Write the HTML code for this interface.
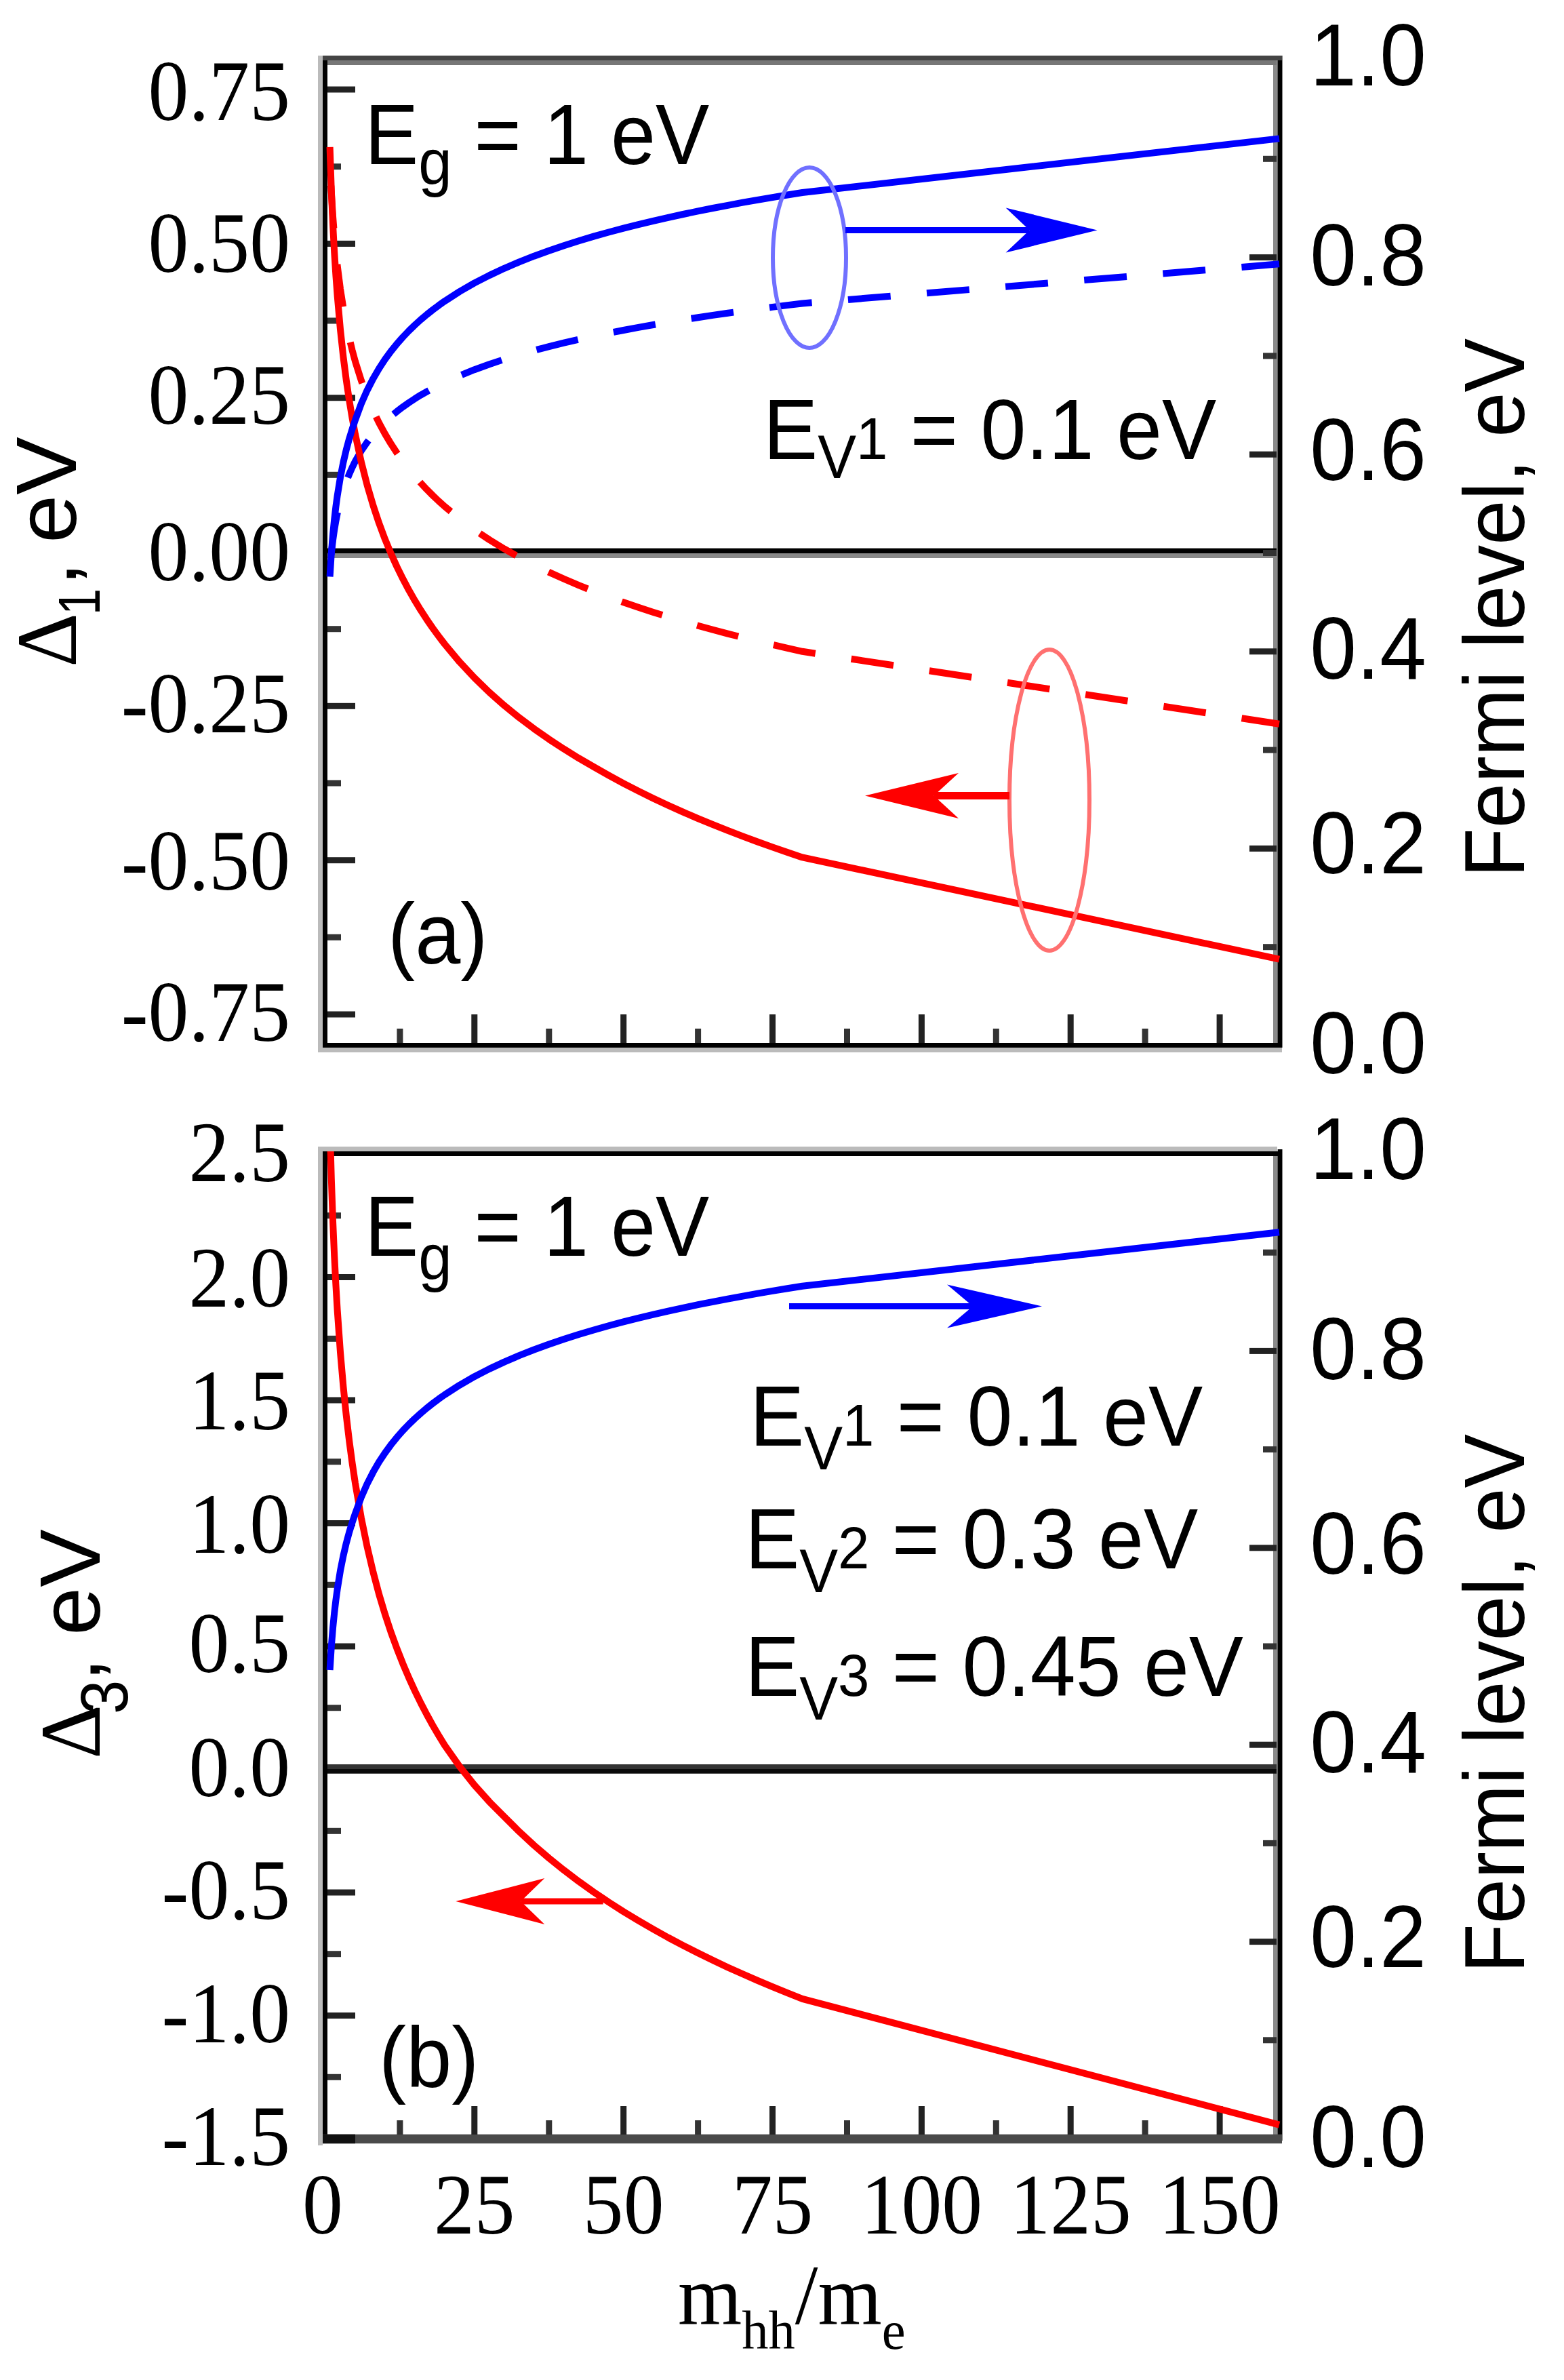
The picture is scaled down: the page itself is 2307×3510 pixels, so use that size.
<!DOCTYPE html>
<html lang="en"><head><meta charset="utf-8"><title>Figure</title>
<style>html,body{margin:0;padding:0;background:#fff}svg{display:block}</style></head>
<body>
<svg width="2307" height="3510" viewBox="0 0 2307 3510">
<defs><clipPath id="ca"><rect x="476.0" y="85.0" width="1415.0" height="1461.0"/></clipPath><clipPath id="cb"><rect x="476.0" y="1698.0" width="1415.0" height="1460.0"/></clipPath></defs>
<rect width="2307" height="3510" fill="#fff"/>
<rect x="469.0" y="82.0" width="7.0" height="1470.0" fill="#bbb"/>
<rect x="476.0" y="82.0" width="7.0" height="1463.0" fill="#000"/>
<rect x="1878.0" y="89.0" width="7.0" height="1453.0" fill="#8a8a8a"/>
<rect x="1884.7" y="82.0" width="6.8" height="1463.0" fill="#000"/>
<rect x="476.0" y="82.0" width="1415.0" height="7.0" fill="#444"/>
<rect x="483.0" y="89.0" width="1400.0" height="7.0" fill="#777"/>
<rect x="476.0" y="1538.0" width="1415.0" height="7.0" fill="#000"/>
<rect x="469.0" y="1545.0" width="1422.0" height="7.0" fill="#bbb"/>
<rect x="483.0" y="808.6" width="1400.0" height="7.4" fill="#000"/>
<rect x="483.0" y="816.0" width="1400.0" height="7.0" fill="#888"/>
<rect x="483.0" y="1491.5" width="41.0" height="9.0" fill="#222"/>
<rect x="483.0" y="1264.2" width="41.0" height="9.0" fill="#222"/>
<rect x="483.0" y="1036.8" width="41.0" height="9.0" fill="#222"/>
<rect x="483.0" y="582.2" width="41.0" height="9.0" fill="#222"/>
<rect x="483.0" y="354.9" width="41.0" height="9.0" fill="#222"/>
<rect x="483.0" y="127.5" width="41.0" height="9.0" fill="#222"/>
<rect x="483.0" y="1377.8" width="20.0" height="9.0" fill="#333"/>
<rect x="483.0" y="1150.5" width="20.0" height="9.0" fill="#333"/>
<rect x="483.0" y="923.2" width="20.0" height="9.0" fill="#333"/>
<rect x="483.0" y="695.8" width="20.0" height="9.0" fill="#333"/>
<rect x="483.0" y="468.5" width="20.0" height="9.0" fill="#333"/>
<rect x="483.0" y="241.2" width="20.0" height="9.0" fill="#333"/>
<rect x="1843.0" y="1246.9" width="40.0" height="9.0" fill="#222"/>
<rect x="1843.0" y="956.3" width="40.0" height="9.0" fill="#222"/>
<rect x="1843.0" y="665.7" width="40.0" height="9.0" fill="#222"/>
<rect x="1843.0" y="375.1" width="40.0" height="9.0" fill="#222"/>
<rect x="1863.0" y="1392.2" width="20.0" height="9.0" fill="#333"/>
<rect x="1863.0" y="1101.6" width="20.0" height="9.0" fill="#333"/>
<rect x="1863.0" y="811.0" width="20.0" height="9.0" fill="#333"/>
<rect x="1863.0" y="520.4" width="20.0" height="9.0" fill="#333"/>
<rect x="1863.0" y="229.8" width="20.0" height="9.0" fill="#333"/>
<rect x="695.3" y="1496.0" width="9.0" height="42.0" fill="#222"/>
<rect x="915.2" y="1496.0" width="9.0" height="42.0" fill="#222"/>
<rect x="1135.0" y="1496.0" width="9.0" height="42.0" fill="#222"/>
<rect x="1354.9" y="1496.0" width="9.0" height="42.0" fill="#222"/>
<rect x="1574.7" y="1496.0" width="9.0" height="42.0" fill="#222"/>
<rect x="1794.6" y="1496.0" width="9.0" height="42.0" fill="#222"/>
<rect x="585.4" y="1517.0" width="9.0" height="21.0" fill="#333"/>
<rect x="805.3" y="1517.0" width="9.0" height="21.0" fill="#333"/>
<rect x="1025.1" y="1517.0" width="9.0" height="21.0" fill="#333"/>
<rect x="1245.0" y="1517.0" width="9.0" height="21.0" fill="#333"/>
<rect x="1464.8" y="1517.0" width="9.0" height="21.0" fill="#333"/>
<rect x="1684.6" y="1517.0" width="9.0" height="21.0" fill="#333"/>
<rect x="469.0" y="1695.0" width="7.0" height="1469.0" fill="#bbb"/>
<rect x="476.0" y="1695.0" width="7.0" height="1462.0" fill="#000"/>
<rect x="1878.0" y="1702.0" width="7.0" height="1452.0" fill="#8a8a8a"/>
<rect x="1884.7" y="1695.0" width="6.8" height="1462.0" fill="#000"/>
<rect x="469.0" y="1691.0" width="1415.0" height="7.0" fill="#bbb"/>
<rect x="476.0" y="1698.0" width="1415.0" height="7.0" fill="#000"/>
<rect x="476.0" y="3147.7" width="1415.0" height="13.5" fill="#4a4a4a"/>
<rect x="476.0" y="3147.7" width="48.0" height="13.5" fill="#111"/>
<rect x="483.0" y="2602.0" width="1400.0" height="7.0" fill="#333"/>
<rect x="483.0" y="2609.0" width="1400.0" height="6.7" fill="#0a0a0a"/>
<rect x="483.0" y="2968.0" width="41.0" height="9.0" fill="#222"/>
<rect x="483.0" y="2786.5" width="41.0" height="9.0" fill="#222"/>
<rect x="483.0" y="2423.5" width="41.0" height="9.0" fill="#222"/>
<rect x="483.0" y="2242.0" width="41.0" height="9.0" fill="#222"/>
<rect x="483.0" y="2060.5" width="41.0" height="9.0" fill="#222"/>
<rect x="483.0" y="1879.0" width="41.0" height="9.0" fill="#222"/>
<rect x="483.0" y="3058.8" width="20.0" height="9.0" fill="#333"/>
<rect x="483.0" y="2877.2" width="20.0" height="9.0" fill="#333"/>
<rect x="483.0" y="2695.8" width="20.0" height="9.0" fill="#333"/>
<rect x="483.0" y="2514.2" width="20.0" height="9.0" fill="#333"/>
<rect x="483.0" y="2332.8" width="20.0" height="9.0" fill="#333"/>
<rect x="483.0" y="2151.2" width="20.0" height="9.0" fill="#333"/>
<rect x="483.0" y="1969.8" width="20.0" height="9.0" fill="#333"/>
<rect x="483.0" y="1788.2" width="20.0" height="9.0" fill="#333"/>
<rect x="1843.0" y="2859.1" width="40.0" height="9.0" fill="#222"/>
<rect x="1843.0" y="2568.7" width="40.0" height="9.0" fill="#222"/>
<rect x="1843.0" y="2278.3" width="40.0" height="9.0" fill="#222"/>
<rect x="1843.0" y="1987.9" width="40.0" height="9.0" fill="#222"/>
<rect x="1863.0" y="3004.3" width="20.0" height="9.0" fill="#333"/>
<rect x="1863.0" y="2713.9" width="20.0" height="9.0" fill="#333"/>
<rect x="1863.0" y="2423.5" width="20.0" height="9.0" fill="#333"/>
<rect x="1863.0" y="2133.1" width="20.0" height="9.0" fill="#333"/>
<rect x="1863.0" y="1842.7" width="20.0" height="9.0" fill="#333"/>
<rect x="695.3" y="3106.0" width="9.0" height="42.0" fill="#222"/>
<rect x="915.2" y="3106.0" width="9.0" height="42.0" fill="#222"/>
<rect x="1135.0" y="3106.0" width="9.0" height="42.0" fill="#222"/>
<rect x="1354.9" y="3106.0" width="9.0" height="42.0" fill="#222"/>
<rect x="1574.7" y="3106.0" width="9.0" height="42.0" fill="#222"/>
<rect x="1794.6" y="3106.0" width="9.0" height="42.0" fill="#222"/>
<rect x="585.4" y="3127.0" width="9.0" height="21.0" fill="#333"/>
<rect x="805.3" y="3127.0" width="9.0" height="21.0" fill="#333"/>
<rect x="1025.1" y="3127.0" width="9.0" height="21.0" fill="#333"/>
<rect x="1245.0" y="3127.0" width="9.0" height="21.0" fill="#333"/>
<rect x="1464.8" y="3127.0" width="9.0" height="21.0" fill="#333"/>
<rect x="1684.6" y="3127.0" width="9.0" height="21.0" fill="#333"/>
<path d="M486.6,240.2 L488.8,284.6 L491.0,319.0 L493.2,347.2 L495.4,371.0 L497.6,391.6 L502.0,426.0 L506.4,454.1 L510.8,477.9 L515.2,498.5 L519.6,516.7 L524.0,533.0 L532.8,561.1 L541.6,584.9 L550.4,605.5 L559.1,623.7 L567.9,639.9 L576.7,654.6 L585.5,668.0 L594.3,680.4 L603.1,691.8 L611.9,702.5 L620.7,712.4 L629.5,721.8 L638.3,730.6 L647.1,739.0 L655.9,746.9 L677.9,765.0 L699.8,781.3 L721.8,796.0 L743.8,809.4 L765.8,821.8 L787.8,833.2 L809.8,843.9 L831.8,853.8 L853.7,863.2 L875.7,872.0 L897.7,880.3 L919.7,888.3 L941.7,895.8 L963.7,903.0 L985.6,909.8 L1007.6,916.4 L1029.6,922.7 L1051.6,928.7 L1073.6,934.6 L1095.6,940.2 L1117.5,945.6 L1139.5,950.8 L1161.5,955.9 L1183.5,960.8 L1887.0,1067.7" fill="none" stroke="#ff0000" stroke-width="10" stroke-linejoin="round" stroke-dasharray="63 53.5" stroke-dashoffset="82.9" clip-path="url(#ca)"/>
<path d="M486.6,839.7 L488.8,815.5 L491.0,796.8 L493.2,781.4 L495.4,768.5 L497.6,757.3 L502.0,738.5 L506.4,723.2 L510.8,710.3 L515.2,699.1 L519.6,689.2 L524.0,680.3 L532.8,665.0 L541.6,652.1 L550.4,640.9 L559.1,631.0 L567.9,622.1 L576.7,614.1 L585.5,606.8 L594.3,600.1 L603.1,593.9 L611.9,588.1 L620.7,582.6 L629.5,577.6 L638.3,572.8 L647.1,568.2 L655.9,563.9 L677.9,554.0 L699.8,545.2 L721.8,537.2 L743.8,529.9 L765.8,523.1 L787.8,516.9 L809.8,511.1 L831.8,505.7 L853.7,500.6 L875.7,495.8 L897.7,491.3 L919.7,487.0 L941.7,482.9 L963.7,479.0 L985.6,475.2 L1007.6,471.6 L1029.6,468.2 L1051.6,464.9 L1073.6,461.8 L1095.6,458.7 L1117.5,455.7 L1139.5,452.9 L1161.5,450.1 L1183.5,447.5 L1887.0,389.3" fill="none" stroke="#0000ff" stroke-width="10" stroke-linejoin="round" stroke-dasharray="63 53.5" stroke-dashoffset="94.6" clip-path="url(#ca)"/>
<path d="M486.6,216.9 L488.8,281.2 L491.0,331.0 L493.2,371.7 L495.4,406.1 L497.6,435.9 L502.0,485.7 L506.4,526.4 L510.8,560.8 L515.2,590.6 L519.6,616.9 L524.0,640.4 L532.8,681.1 L541.6,715.5 L550.4,745.4 L559.1,771.6 L567.9,795.2 L576.7,816.4 L585.5,835.9 L594.3,853.7 L603.1,870.3 L611.9,885.7 L620.7,900.1 L629.5,913.6 L638.3,926.4 L647.1,938.4 L655.9,949.9 L677.9,976.2 L699.8,999.7 L721.8,1021.0 L743.8,1040.4 L765.8,1058.3 L787.8,1074.8 L809.8,1090.2 L831.8,1104.6 L853.7,1118.2 L875.7,1130.9 L897.7,1143.4 L919.7,1155.3 L941.7,1166.6 L963.7,1177.4 L985.6,1187.7 L1007.6,1197.6 L1029.6,1207.1 L1051.6,1216.2 L1073.6,1224.9 L1095.6,1233.4 L1117.5,1241.5 L1139.5,1249.4 L1161.5,1257.0 L1183.5,1264.4 L1887.0,1414.7" fill="none" stroke="#ff0000" stroke-width="10" stroke-linejoin="round" clip-path="url(#ca)"/>
<path d="M486.6,850.5 L488.8,815.5 L491.0,788.4 L493.2,766.2 L495.4,747.4 L497.6,731.2 L502.0,704.1 L506.4,681.9 L510.8,663.1 L515.2,646.9 L519.6,632.6 L524.0,619.5 L532.8,595.6 L541.6,575.6 L550.4,558.4 L559.1,543.4 L567.9,530.0 L576.7,518.0 L585.5,507.1 L594.3,497.1 L603.1,487.9 L611.9,479.4 L620.7,471.4 L629.5,464.0 L638.3,457.0 L647.1,450.4 L655.9,444.2 L677.9,430.0 L699.8,417.4 L721.8,406.1 L743.8,395.8 L765.8,386.4 L787.8,377.7 L809.8,369.7 L831.8,362.2 L853.7,355.2 L875.7,348.6 L897.7,342.5 L919.7,336.6 L941.7,331.1 L963.7,325.8 L985.6,320.8 L1007.6,316.0 L1029.6,311.4 L1051.6,307.0 L1073.6,302.8 L1095.6,298.7 L1117.5,294.8 L1139.5,291.1 L1161.5,287.5 L1183.5,284.0 L1887.0,204.4" fill="none" stroke="#0000ff" stroke-width="10" stroke-linejoin="round" clip-path="url(#ca)"/>
<ellipse cx="1194" cy="380" rx="54" ry="133" fill="none" stroke="#7070ff" stroke-width="6"/>
<ellipse cx="1548" cy="1180" rx="59" ry="222" fill="none" stroke="#ff7070" stroke-width="6"/>
<path d="M1247.0,339.5 L1518.6,339.5" stroke="#0000ff" stroke-width="9" fill="none"/>
<path d="M1618.6,339.5 L1483.6,306.5 L1518.6,339.5 L1483.6,372.5 Z" fill="#0000ff"/>
<path d="M1489.0,1173.6 L1377.5,1173.6" stroke="#ff0000" stroke-width="11" fill="none"/>
<path d="M1276.0,1173.6 L1414.0,1140.1 L1377.5,1173.6 L1414.0,1207.1 Z" fill="#ff0000"/>
<path d="M486.6,1658.5 L488.8,1738.7 L491.0,1800.9 L493.2,1851.7 L495.4,1894.7 L497.6,1931.9 L502.0,1994.1 L506.4,2044.9 L510.8,2087.9 L515.2,2125.1 L519.6,2158.0 L524.0,2187.3 L532.8,2238.2 L541.6,2281.2 L550.4,2318.4 L559.1,2351.2 L567.9,2380.6 L576.7,2407.2 L585.5,2431.4 L594.3,2453.7 L603.1,2474.4 L611.9,2493.6 L620.7,2511.6 L629.5,2528.5 L638.3,2544.5 L647.1,2559.5 L655.9,2573.8 L677.9,2605.1 L699.8,2632.7 L721.8,2657.2 L743.8,2679.3 L765.8,2701.2 L787.8,2721.5 L809.8,2740.4 L831.8,2758.1 L853.7,2774.7 L875.7,2790.3 L897.7,2805.1 L919.7,2819.2 L941.7,2832.5 L963.7,2845.3 L985.6,2857.5 L1007.6,2869.1 L1029.6,2880.3 L1051.6,2891.0 L1073.6,2901.4 L1095.6,2911.3 L1117.5,2920.9 L1139.5,2930.2 L1161.5,2939.2 L1183.5,2947.9 L1887.0,3133.7" fill="none" stroke="#ff0000" stroke-width="10" stroke-linejoin="round" clip-path="url(#cb)"/>
<path d="M486.6,2463.0 L488.8,2428.0 L491.0,2400.9 L493.2,2378.7 L495.4,2360.0 L497.6,2343.8 L502.0,2316.6 L506.4,2294.5 L510.8,2275.7 L515.2,2259.5 L519.6,2245.2 L524.0,2232.2 L532.8,2208.3 L541.6,2188.3 L550.4,2171.1 L559.1,2156.0 L567.9,2142.7 L576.7,2130.7 L585.5,2119.8 L594.3,2109.8 L603.1,2100.6 L611.9,2092.1 L620.7,2084.2 L629.5,2076.7 L638.3,2069.8 L647.1,2063.2 L655.9,2057.0 L677.9,2042.8 L699.8,2030.2 L721.8,2018.9 L743.8,2008.6 L765.8,1999.2 L787.8,1990.5 L809.8,1982.5 L831.8,1975.0 L853.7,1968.0 L875.7,1961.5 L897.7,1955.3 L919.7,1949.4 L941.7,1943.9 L963.7,1938.6 L985.6,1933.6 L1007.6,1928.8 L1029.6,1924.2 L1051.6,1919.9 L1073.6,1915.6 L1095.6,1911.6 L1117.5,1907.7 L1139.5,1903.9 L1161.5,1900.3 L1183.5,1896.8 L1887.0,1817.3" fill="none" stroke="#0000ff" stroke-width="10" stroke-linejoin="round" clip-path="url(#cb)"/>
<path d="M1164.0,1926.5 L1435.0,1926.5" stroke="#0000ff" stroke-width="9" fill="none"/>
<path d="M1537.0,1926.5 L1397.0,1894.5 L1435.0,1926.5 L1397.0,1958.5 Z" fill="#0000ff"/>
<path d="M889.7,2804.0 L768.3,2804.0" stroke="#ff0000" stroke-width="9" fill="none"/>
<path d="M672.3,2804.0 L803.3,2770.0 L768.3,2804.0 L803.3,2838.0 Z" fill="#ff0000"/>
<text transform="translate(428.0,177.0) scale(0.95,1)" font-family="'Liberation Serif', 'Times New Roman', serif" font-size="126" text-anchor="end" >0.75</text>
<text transform="translate(428.0,401.4) scale(0.95,1)" font-family="'Liberation Serif', 'Times New Roman', serif" font-size="126" text-anchor="end" >0.50</text>
<text transform="translate(428.0,624.7) scale(0.95,1)" font-family="'Liberation Serif', 'Times New Roman', serif" font-size="126" text-anchor="end" >0.25</text>
<text transform="translate(428.0,856.0) scale(0.95,1)" font-family="'Liberation Serif', 'Times New Roman', serif" font-size="126" text-anchor="end" >0.00</text>
<text transform="translate(428.0,1080.3) scale(0.95,1)" font-family="'Liberation Serif', 'Times New Roman', serif" font-size="126" text-anchor="end" >-0.25</text>
<text transform="translate(428.0,1311.7) scale(0.95,1)" font-family="'Liberation Serif', 'Times New Roman', serif" font-size="126" text-anchor="end" >-0.50</text>
<text transform="translate(428.0,1535.0) scale(0.95,1)" font-family="'Liberation Serif', 'Times New Roman', serif" font-size="126" text-anchor="end" >-0.75</text>
<text transform="translate(428.0,1742.0) scale(0.95,1)" font-family="'Liberation Serif', 'Times New Roman', serif" font-size="126" text-anchor="end" >2.5</text>
<text transform="translate(428.0,1926.5) scale(0.95,1)" font-family="'Liberation Serif', 'Times New Roman', serif" font-size="126" text-anchor="end" >2.0</text>
<text transform="translate(428.0,2108.0) scale(0.95,1)" font-family="'Liberation Serif', 'Times New Roman', serif" font-size="126" text-anchor="end" >1.5</text>
<text transform="translate(428.0,2289.5) scale(0.95,1)" font-family="'Liberation Serif', 'Times New Roman', serif" font-size="126" text-anchor="end" >1.0</text>
<text transform="translate(428.0,2466.0) scale(0.95,1)" font-family="'Liberation Serif', 'Times New Roman', serif" font-size="126" text-anchor="end" >0.5</text>
<text transform="translate(428.0,2648.5) scale(0.95,1)" font-family="'Liberation Serif', 'Times New Roman', serif" font-size="126" text-anchor="end" >0.0</text>
<text transform="translate(428.0,2830.0) scale(0.95,1)" font-family="'Liberation Serif', 'Times New Roman', serif" font-size="126" text-anchor="end" >-0.5</text>
<text transform="translate(428.0,3012.0) scale(0.95,1)" font-family="'Liberation Serif', 'Times New Roman', serif" font-size="126" text-anchor="end" >-1.0</text>
<text transform="translate(428.0,3193.4) scale(0.95,1)" font-family="'Liberation Serif', 'Times New Roman', serif" font-size="126" text-anchor="end" >-1.5</text>
<text transform="translate(476.0,3294.0) scale(0.95,1)" font-family="'Liberation Serif', 'Times New Roman', serif" font-size="126" text-anchor="middle" >0</text>
<text transform="translate(699.8,3294.0) scale(0.95,1)" font-family="'Liberation Serif', 'Times New Roman', serif" font-size="126" text-anchor="middle" >25</text>
<text transform="translate(919.7,3294.0) scale(0.95,1)" font-family="'Liberation Serif', 'Times New Roman', serif" font-size="126" text-anchor="middle" >50</text>
<text transform="translate(1139.5,3294.0) scale(0.95,1)" font-family="'Liberation Serif', 'Times New Roman', serif" font-size="126" text-anchor="middle" >75</text>
<text transform="translate(1359.4,3294.0) scale(0.95,1)" font-family="'Liberation Serif', 'Times New Roman', serif" font-size="126" text-anchor="middle" >100</text>
<text transform="translate(1579.2,3294.0) scale(0.95,1)" font-family="'Liberation Serif', 'Times New Roman', serif" font-size="126" text-anchor="middle" >125</text>
<text transform="translate(1799.1,3294.0) scale(0.95,1)" font-family="'Liberation Serif', 'Times New Roman', serif" font-size="126" text-anchor="middle" >150</text>
<text transform="translate(2104.0,126.1) scale(0.95,1)" font-family="'Liberation Sans', Arial, sans-serif" font-size="130" text-anchor="end" >1.0</text>
<text transform="translate(2104.0,1739.1) scale(0.95,1)" font-family="'Liberation Sans', Arial, sans-serif" font-size="130" text-anchor="end" >1.0</text>
<text transform="translate(2104.0,420.6) scale(0.95,1)" font-family="'Liberation Sans', Arial, sans-serif" font-size="130" text-anchor="end" >0.8</text>
<text transform="translate(2104.0,2033.6) scale(0.95,1)" font-family="'Liberation Sans', Arial, sans-serif" font-size="130" text-anchor="end" >0.8</text>
<text transform="translate(2104.0,707.6) scale(0.95,1)" font-family="'Liberation Sans', Arial, sans-serif" font-size="130" text-anchor="end" >0.6</text>
<text transform="translate(2104.0,2320.6) scale(0.95,1)" font-family="'Liberation Sans', Arial, sans-serif" font-size="130" text-anchor="end" >0.6</text>
<text transform="translate(2104.0,1001.3) scale(0.95,1)" font-family="'Liberation Sans', Arial, sans-serif" font-size="130" text-anchor="end" >0.4</text>
<text transform="translate(2104.0,2614.3) scale(0.95,1)" font-family="'Liberation Sans', Arial, sans-serif" font-size="130" text-anchor="end" >0.4</text>
<text transform="translate(2104.0,1288.1) scale(0.95,1)" font-family="'Liberation Sans', Arial, sans-serif" font-size="130" text-anchor="end" >0.2</text>
<text transform="translate(2104.0,2901.1) scale(0.95,1)" font-family="'Liberation Sans', Arial, sans-serif" font-size="130" text-anchor="end" >0.2</text>
<text transform="translate(2104.0,1582.6) scale(0.95,1)" font-family="'Liberation Sans', Arial, sans-serif" font-size="130" text-anchor="end" >0.0</text>
<text transform="translate(2104.0,3195.6) scale(0.95,1)" font-family="'Liberation Sans', Arial, sans-serif" font-size="130" text-anchor="end" >0.0</text>
<text transform="translate(2248.0,1294.0) rotate(-90) scale(0.939,1)" font-family="'Liberation Sans', Arial, sans-serif" font-size="127" text-anchor="start" >Fermi level, eV</text>
<text transform="translate(2248.0,2910.0) rotate(-90) scale(0.939,1)" font-family="'Liberation Sans', Arial, sans-serif" font-size="127" text-anchor="start" >Fermi level, eV</text>
<text transform="translate(112.0,984.0) rotate(-90) scale(0.98,1)" font-family="'Liberation Serif', 'Times New Roman', serif" font-size="127" text-anchor="start" >Δ</text>
<text transform="translate(147.0,907.0) rotate(-90) scale(0.8,1)" font-family="'Liberation Sans', Arial, sans-serif" font-size="88" text-anchor="start" >1</text>
<text transform="translate(112.0,864.0) rotate(-90)" font-family="'Liberation Sans', Arial, sans-serif" font-size="127" text-anchor="start" >,</text>
<text transform="translate(112.0,801.0) rotate(-90) scale(1.01,1)" font-family="'Liberation Sans', Arial, sans-serif" font-size="127" text-anchor="start" >eV</text>
<text transform="translate(147.0,2594.0) rotate(-90) scale(0.98,1)" font-family="'Liberation Serif', 'Times New Roman', serif" font-size="127" text-anchor="start" >Δ</text>
<text transform="translate(188.0,2528.0) rotate(-90) scale(0.92,1)" font-family="'Liberation Sans', Arial, sans-serif" font-size="98" text-anchor="start" >3</text>
<text transform="translate(147.0,2480.0) rotate(-90)" font-family="'Liberation Sans', Arial, sans-serif" font-size="127" text-anchor="start" >,</text>
<text transform="translate(147.0,2412.0) rotate(-90) scale(1.01,1)" font-family="'Liberation Sans', Arial, sans-serif" font-size="127" text-anchor="start" >eV</text>
<text transform="translate(1000.0,3427.0) scale(0.97,1)" font-family="'Liberation Serif', 'Times New Roman', serif" font-size="125" text-anchor="start" >m<tspan font-size="81" dy="36">hh</tspan><tspan dy="-36">/m</tspan><tspan font-size="81" dy="37">e</tspan></text>
<text transform="translate(538.0,242.0) scale(0.935,1)" font-family="'Liberation Sans', Arial, sans-serif" font-size="127" text-anchor="start" >E<tspan font-size="95" dy="29">g</tspan><tspan dy="-29"> = 1 eV</tspan></text>
<text transform="translate(1126.0,677.0) scale(0.947,1)" font-family="'Liberation Sans', Arial, sans-serif" font-size="127" text-anchor="start" >E<tspan font-size="90" dy="28">V</tspan><tspan font-size="88" dy="-28">1</tspan><tspan> = 0.1 eV</tspan></text>
<text transform="translate(572.0,1421.0) scale(0.95,1)" font-family="'Liberation Sans', Arial, sans-serif" font-size="127" text-anchor="start" >(a)</text>
<text transform="translate(538.0,1851.5) scale(0.935,1)" font-family="'Liberation Sans', Arial, sans-serif" font-size="127" text-anchor="start" >E<tspan font-size="95" dy="34">g</tspan><tspan dy="-34"> = 1 eV</tspan></text>
<text transform="translate(1106.0,2132.0) scale(0.947,1)" font-family="'Liberation Sans', Arial, sans-serif" font-size="127" text-anchor="start" >E<tspan font-size="90" dy="35">V</tspan><tspan font-size="88" dy="-35">1</tspan><tspan> = 0.1 eV</tspan></text>
<text transform="translate(1099.0,2313.0) scale(0.947,1)" font-family="'Liberation Sans', Arial, sans-serif" font-size="127" text-anchor="start" >E<tspan font-size="90" dy="35">V</tspan><tspan font-size="88" dy="-35">2</tspan><tspan> = 0.3 eV</tspan></text>
<text transform="translate(1099.0,2501.0) scale(0.947,1)" font-family="'Liberation Sans', Arial, sans-serif" font-size="127" text-anchor="start" >E<tspan font-size="90" dy="35">V</tspan><tspan font-size="88" dy="-35">3</tspan><tspan> = 0.45 eV</tspan></text>
<text transform="translate(559.0,3078.0) scale(0.95,1)" font-family="'Liberation Sans', Arial, sans-serif" font-size="127" text-anchor="start" >(b)</text>
</svg>
</body></html>
